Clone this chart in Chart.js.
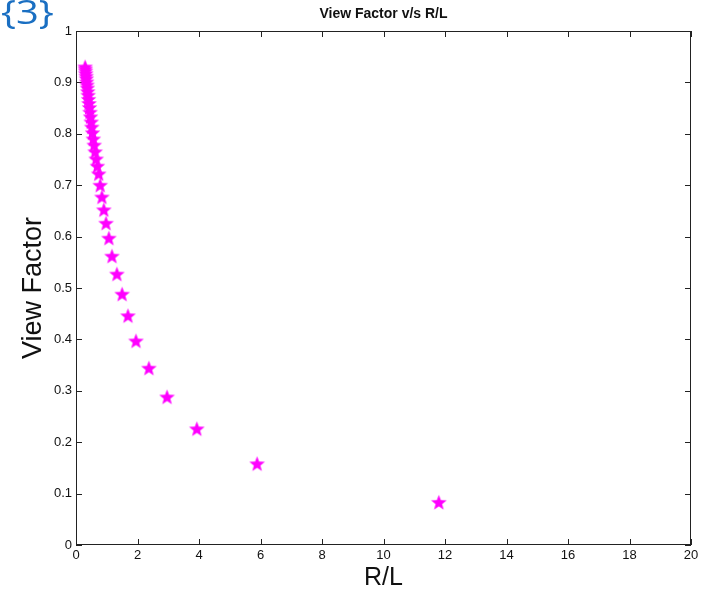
<!DOCTYPE html>
<html>
<head>
<meta charset="utf-8">
<script src="https://cdn.jsdelivr.net/npm/chart.js@4/dist/chart.umd.min.js"></script>
<style>
  html, body { margin: 0; padding: 0; background: #ffffff; }
  #wrap { position: relative; width: 706px; height: 593px; overflow: hidden; }
  canvas { display: block; }
</style>
</head>
<body>
<div id="wrap"><canvas id="chart" width="706" height="593"></canvas></div>
<script>
// Radius-to-spacing ratio R/L for each case
const ratioRL = [
  11.80, 5.89, 3.93, 2.96, 2.37, 1.95, 1.69, 1.50, 1.33, 1.17,
  1.07, 0.976, 0.905, 0.842, 0.785, 0.738, 0.694, 0.656, 0.621, 0.590,
  0.562, 0.536, 0.513, 0.492, 0.472, 0.454, 0.437, 0.421, 0.407, 0.393,
  0.381, 0.369, 0.358, 0.347, 0.337, 0.328, 0.319, 0.311, 0.303, 0.295
];
// Computed view factor for each case
const viewFactor = [
  0.083, 0.158, 0.226, 0.288, 0.344, 0.397, 0.446, 0.488, 0.527, 0.562,
  0.597, 0.626, 0.652, 0.677, 0.700, 0.722, 0.737, 0.751, 0.765, 0.778,
  0.790, 0.802, 0.813, 0.823, 0.833, 0.842, 0.851, 0.859, 0.867, 0.875,
  0.882, 0.889, 0.895, 0.901, 0.907, 0.912, 0.917, 0.922, 0.926, 0.930
];
// Axis ticks
const xTickValues = [0, 2, 4, 6, 8, 10, 12, 14, 16, 18, 20];
const xTickLabels = ['0', '2', '4', '6', '8', '10', '12', '14', '16', '18', '20'];
const yTickValues = [0, 0.1, 0.2, 0.3, 0.4, 0.5, 0.6, 0.7, 0.8, 0.9, 1];
const yTickLabels = ['0', '0.1', '0.2', '0.3', '0.4', '0.5', '0.6', '0.7', '0.8', '0.9', '1'];

// Filled five-pointed star marker
function makeStar(size, color) {
  const c = document.createElement('canvas');
  c.width = size; c.height = size;
  const g = c.getContext('2d');
  const cx = size / 2, cy = size / 2 + 0.6;
  const rOuter = size / 2 - 0.3, rInner = rOuter * 0.42;
  g.beginPath();
  for (let i = 0; i < 10; i++) {
    const r = i % 2 === 0 ? rOuter : rInner;
    const a = -Math.PI / 2 + i * Math.PI / 5;
    const px = cx + r * Math.cos(a), py = cy + r * Math.sin(a);
    if (i === 0) g.moveTo(px, py); else g.lineTo(px, py);
  }
  g.closePath();
  g.fillStyle = color;
  g.fill();
  return c;
}
const starMarker = makeStar(17, '#ff00ff');

const points = ratioRL.map((x, i) => ({ x: x, y: viewFactor[i] }));

// Boxed frame with inward tick marks, plus the heading and the tag
const framePlugin = {
  id: 'frame',
  beforeDatasetsDraw(chart) {
    const { ctx, chartArea: a, scales } = chart;
    ctx.save();
    ctx.strokeStyle = '#222222';
    ctx.lineWidth = 1;
    ctx.strokeRect(a.left + 0.5, a.top + 0.5, a.right - a.left - 1, a.bottom - a.top - 1);
    const len = 6;
    ctx.beginPath();
    xTickValues.forEach(v => {
      const px = Math.round(scales.x.getPixelForValue(v)) + 0.5;
      ctx.moveTo(px, a.bottom); ctx.lineTo(px, a.bottom - len);
      ctx.moveTo(px, a.top); ctx.lineTo(px, a.top + len);
    });
    yTickValues.forEach(v => {
      const py = Math.round(scales.y.getPixelForValue(v)) + 0.5;
      ctx.moveTo(a.left, py); ctx.lineTo(a.left + len, py);
      ctx.moveTo(a.right, py); ctx.lineTo(a.right - len, py);
    });
    ctx.stroke();
    ctx.restore();
  },
  afterDraw(chart) {
    const { ctx, chartArea: a } = chart;
    ctx.save();
    ctx.fillStyle = '#111111';
    ctx.font = 'bold 14px "Liberation Sans", Arial, sans-serif';
    ctx.textAlign = 'center';
    ctx.textBaseline = 'middle';
    ctx.fillText('View Factor v/s R/L', (a.left + a.right) / 2, 14);
    ctx.restore();

    ctx.save();
    ctx.fillStyle = '#1a6fc2';
    ctx.font = '32px "Open Sans", sans-serif';
    ctx.textAlign = 'left';
    ctx.textBaseline = 'alphabetic';
    ctx.translate(1, 24);
    ctx.scale(1.25, 1);
    ctx.fillText('{3}', 0, 0);
    ctx.restore();
  }
};

new Chart(document.getElementById('chart'), {
  type: 'scatter',
  data: {
    datasets: [{
      data: points,
      pointStyle: starMarker,
      pointRadius: 8,
      pointHoverRadius: 8,
      showLine: false
    }]
  },
  options: {
    responsive: false,
    animation: false,
    events: [],
    layout: { padding: { left: 0, right: 15, top: 31, bottom: 0 } },
    plugins: { legend: { display: false }, title: { display: false }, tooltip: { enabled: false } },
    scales: {
      x: {
        type: 'linear',
        min: 0, max: 20,
        afterBuildTicks: s => { s.ticks = xTickValues.map(v => ({ value: v })); },
        afterFit: s => { s.height = 48; },
        grid: { display: false, drawTicks: false },
        border: { display: false },
        ticks: {
          padding: 3,
          color: '#111111',
          font: { family: '"Liberation Sans", Arial, sans-serif', size: 13 },
          callback: (v, i) => xTickLabels[i]
        },
        title: {
          display: true,
          text: 'R/L',
          color: '#111111',
          font: { family: '"Liberation Sans", Arial, sans-serif', size: 25 },
          padding: { top: 0, bottom: 0 }
        }
      },
      y: {
        type: 'linear',
        min: 0, max: 1,
        afterBuildTicks: s => { s.ticks = yTickValues.map(v => ({ value: v })); },
        afterFit: s => { s.width = 76; },
        grid: { display: false, drawTicks: false },
        border: { display: false },
        ticks: {
          padding: 4,
          color: '#111111',
          font: { family: '"Liberation Sans", Arial, sans-serif', size: 13 },
          callback: (v, i) => yTickLabels[i]
        },
        title: {
          display: true,
          text: 'View Factor',
          color: '#111111',
          font: { family: '"Liberation Sans", Arial, sans-serif', size: 27 },
          padding: { top: 17, bottom: 0 }
        }
      }
    }
  },
  plugins: [framePlugin]
});
</script>
</body>
</html>
